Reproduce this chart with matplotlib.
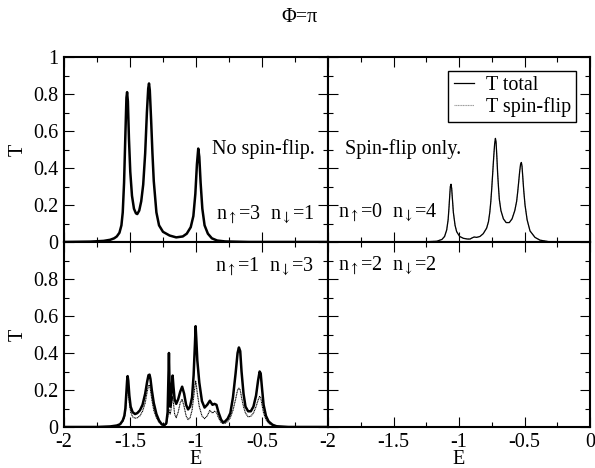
import matplotlib
matplotlib.use("Agg")
import matplotlib.pyplot as plt
from matplotlib.ticker import MultipleLocator

plt.rcParams.update({
    "font.family": "Liberation Serif",
    "mathtext.fontset": "stix",
    "font.size": 14.5,
    "axes.linewidth": 1.5,
    "xtick.direction": "in",
    "ytick.direction": "in",
    "xtick.top": True,
    "ytick.right": True,
    "xtick.major.size": 7.2,
    "ytick.major.size": 7.2,
    "xtick.minor.size": 3.6,
    "ytick.minor.size": 3.6,
    "xtick.major.width": 0.8,
    "ytick.major.width": 0.8,
    "xtick.minor.width": 0.8,
    "ytick.minor.width": 0.8,
})

# ── Data ─────────────────────────────────────────────────────────
# top-left: n_up=3, n_down=1 (no spin-flip)
e_31 = [-2.0, -1.8, -1.7, -1.65, -1.62, -1.60, -1.58, -1.565, -1.555, -1.545,
        -1.535, -1.527, -1.522, -1.516, -1.508, -1.498, -1.485, -1.47, -1.455,
        -1.445, -1.43, -1.415, -1.40, -1.385, -1.372, -1.362, -1.356, -1.35,
        -1.34, -1.33, -1.32, -1.30, -1.28, -1.25, -1.20, -1.15, -1.10, -1.07,
        -1.04, -1.02, -1.005, -0.993, -0.983, -0.975, -0.965, -0.952, -0.935,
        -0.91, -0.88, -0.84, -0.78, -0.6, 0.0]
t_31 = [0.0, 0.002, 0.006, 0.012, 0.02, 0.03, 0.05, 0.09, 0.16, 0.32,
        0.58, 0.78, 0.81, 0.76, 0.56, 0.38, 0.25, 0.18, 0.155,
        0.151, 0.17, 0.22, 0.31, 0.48, 0.70, 0.83, 0.857, 0.82,
        0.66, 0.48, 0.33, 0.16, 0.09, 0.055, 0.035, 0.025, 0.03, 0.045,
        0.08, 0.14, 0.26, 0.42, 0.505, 0.46, 0.32, 0.18, 0.09,
        0.045, 0.02, 0.008, 0.003, 0.0, 0.0]
sf_31_e = [-2.0, 0.0]
sf_31 = [0.0, 0.0]

# top-right: n_up=0, n_down=4 (spin-flip only, total == spin-flip)
e_04 = [-2.0, -1.3, -1.17, -1.13, -1.11, -1.094, -1.083, -1.076, -1.07,
        -1.066, -1.061, -1.056, -1.05, -1.043, -1.03, -1.018, -0.995, -0.967,
        -0.935, -0.916, -0.9, -0.885, -0.865, -0.84, -0.815, -0.789, -0.775,
        -0.765, -0.757, -0.75, -0.742, -0.735, -0.728, -0.722, -0.717, -0.711,
        -0.705, -0.698, -0.692, -0.68, -0.661, -0.64, -0.616, -0.595, -0.574,
        -0.56, -0.552, -0.545, -0.537, -0.53, -0.524, -0.519, -0.513, -0.506,
        -0.496, -0.48, -0.458, -0.42, -0.382, -0.3, 0.0]
t_04 = [0.0, 0.0, 0.004, 0.014, 0.03, 0.065, 0.12, 0.19, 0.26,
        0.30, 0.312, 0.29, 0.23, 0.16, 0.09, 0.056, 0.03, 0.02,
        0.016, 0.016, 0.022, 0.027, 0.025, 0.03, 0.045, 0.075, 0.11,
        0.16, 0.22, 0.29, 0.38, 0.46, 0.53, 0.56, 0.54, 0.46,
        0.37, 0.29, 0.23, 0.17, 0.125, 0.105, 0.105, 0.125, 0.17,
        0.22, 0.27, 0.32, 0.38, 0.42, 0.43, 0.41, 0.35, 0.28,
        0.2, 0.12, 0.06, 0.025, 0.01, 0.0, 0.0]

# bottom-left: n_up=1, n_down=3
e_13 = [-2.0, -1.75, -1.65, -1.60, -1.575, -1.555, -1.543, -1.535, -1.528,
        -1.522, -1.518, -1.513, -1.505, -1.495, -1.48, -1.462, -1.445, -1.425,
        -1.405, -1.385, -1.37, -1.36, -1.352, -1.345, -1.335, -1.32, -1.30,
        -1.28, -1.26, -1.24, -1.225, -1.215, -1.208, -1.205, -1.201, -1.196,
        -1.19, -1.183, -1.177, -1.171, -1.162, -1.15, -1.135, -1.12, -1.105,
        -1.09, -1.075, -1.06, -1.045, -1.03, -1.018, -1.008, -1.003, -0.998,
        -0.99, -0.975, -0.955, -0.935, -0.915, -0.895, -0.875, -0.86, -0.845,
        -0.83, -0.81, -0.795, -0.78, -0.76, -0.74, -0.72, -0.70, -0.685,
        -0.675, -0.665, -0.655, -0.64, -0.625, -0.605, -0.585, -0.565, -0.545,
        -0.53, -0.518, -0.51, -0.5, -0.488, -0.47, -0.45, -0.42, -0.39,
        -0.3, 0.0]
t_13 = [0.0, 0.0, 0.003, 0.008, 0.015, 0.035, 0.06, 0.10, 0.18,
        0.25, 0.275, 0.25, 0.17, 0.11, 0.08, 0.07, 0.075, 0.09,
        0.12, 0.18, 0.245, 0.28, 0.283, 0.26, 0.20, 0.13, 0.07,
        0.035, 0.015, 0.01, 0.02, 0.08, 0.30, 0.40, 0.25, 0.11,
        0.13, 0.22, 0.278, 0.22, 0.15, 0.125, 0.15, 0.19, 0.218,
        0.18, 0.12, 0.095, 0.11, 0.16, 0.28, 0.45, 0.545, 0.48,
        0.36, 0.24, 0.14, 0.105, 0.12, 0.142, 0.12, 0.125, 0.12,
        0.08, 0.04, 0.025, 0.03, 0.045, 0.075, 0.16, 0.29, 0.40,
        0.43, 0.41, 0.30, 0.18, 0.11, 0.085, 0.085, 0.11, 0.17,
        0.25, 0.30, 0.29, 0.21, 0.12, 0.06, 0.03, 0.012, 0.004,
        0.0, 0.0]
sf_13 = [0.0, 0.0, 0.002, 0.006, 0.012, 0.03, 0.05, 0.08, 0.14,
         0.19, 0.21, 0.19, 0.13, 0.08, 0.055, 0.047, 0.05, 0.06,
         0.085, 0.13, 0.19, 0.222, 0.227, 0.20, 0.15, 0.09, 0.05,
         0.025, 0.012, 0.008, 0.015, 0.05, 0.09, 0.095, 0.08, 0.07,
         0.09, 0.14, 0.165, 0.13, 0.07, 0.05, 0.08, 0.13, 0.15,
         0.11, 0.06, 0.04, 0.05, 0.09, 0.16, 0.22, 0.25, 0.23,
         0.18, 0.11, 0.06, 0.045, 0.06, 0.09, 0.075, 0.085, 0.08,
         0.05, 0.025, 0.018, 0.02, 0.03, 0.05, 0.09, 0.15, 0.20,
         0.21, 0.20, 0.16, 0.11, 0.075, 0.055, 0.058, 0.075, 0.11,
         0.145, 0.165, 0.16, 0.12, 0.075, 0.04, 0.02, 0.008, 0.003,
         0.0, 0.0]

# bottom-right: n_up=2, n_down=2 (nothing transmitted)
e_22 = [-2.0, 0.0]
t_22 = [0.0, 0.0]

W, H = 595, 468
fig = plt.figure(figsize=(W / 100, H / 100), dpi=100)

def box(x0, y0, x1, y1):
    return [x0 / W, 1 - y1 / H, (x1 - x0) / W, (y1 - y0) / H]

ax_tl = fig.add_axes(box(64, 57, 328, 242))
ax_tr = fig.add_axes(box(328, 57, 590, 242))
ax_bl = fig.add_axes(box(64, 242, 328, 427))
ax_br = fig.add_axes(box(328, 242, 590, 427))

DOT = (0, (1, 0.5))

ax_tl.plot(sf_31_e, sf_31, color="black", lw=0.8, ls=DOT)
ax_tl.plot(e_31, t_31, color="black", lw=1.8)

h_sf, = ax_tr.plot(e_04, t_04, color="#999999", lw=0.8, ls=DOT, label="T spin-flip")
h_tot, = ax_tr.plot(e_04, t_04, color="black", lw=0.9, label="T total")

ax_bl.plot(e_13, t_13, color="black", lw=1.8)
ax_bl.plot(e_13, sf_13, color="black", lw=0.8, ls=DOT)

ax_br.plot(e_22, t_22, color="black", lw=0.8, ls=DOT)
ax_br.plot(e_22, t_22, color="black", lw=0.9)

for ax in (ax_tl, ax_tr, ax_bl, ax_br):
    ax.set_xlim(-2, 0)
    ax.set_ylim(0, 1)
    ax.xaxis.set_major_locator(MultipleLocator(0.5))
    ax.xaxis.set_minor_locator(MultipleLocator(0.25))
    ax.yaxis.set_major_locator(MultipleLocator(0.2))
    ax.yaxis.set_minor_locator(MultipleLocator(0.1))
    ax.tick_params(which="both", top=True, right=True)

for ax in (ax_tl, ax_tr):
    ax.tick_params(labelbottom=False)
for ax in (ax_tr, ax_br):
    ax.tick_params(labelleft=False)

ax_tl.set_yticks([0, 0.2, 0.4, 0.6, 0.8, 1.0])
ax_tl.set_yticklabels(["0", "0.2", "0.4", "0.6", "0.8", "1"])
ax_bl.set_yticks([0, 0.2, 0.4, 0.6, 0.8, 1.0])
ax_bl.set_yticklabels(["0", "0.2", "0.4", "0.6", "0.8", ""])
ax_bl.set_xticks([-2, -1.5, -1, -0.5, 0])
ax_bl.set_xticklabels(["-2", "-1.5", "-1", "-0.5", ""])
ax_br.set_xticks([-2, -1.5, -1, -0.5, 0])
ax_br.set_xticklabels(["-2", "-1.5", "-1", "-0.5", "0"])

for ax in (ax_tl, ax_tr, ax_bl, ax_br):
    ax.tick_params(axis="both", which="major", pad=4)

ax_tl.set_ylabel("T", labelpad=4)
ax_bl.set_ylabel("T", labelpad=4)
ax_bl.set_xlabel("E", labelpad=-1)
ax_br.set_xlabel("E", labelpad=-1)

# annotations
ax_tl.text(-0.88, 0.50, "No spin-flip.", va="center", ha="left")
ax_tl.text(-0.85, 0.146, r"n$_{\uparrow}$=3  n$_{\downarrow}$=1", va="center", ha="left")
ax_tr.text(-1.87, 0.50, "Spin-flip only.", va="center", ha="left")
ax_tr.text(-1.92, 0.157, r"n$_{\uparrow}$=0  n$_{\downarrow}$=4", va="center", ha="left")
ax_bl.text(-0.856, 0.865, r"n$_{\uparrow}$=1  n$_{\downarrow}$=3", va="center", ha="left")
ax_br.text(-1.92, 0.87, r"n$_{\uparrow}$=2  n$_{\downarrow}$=2", va="center", ha="left")

leg = ax_tr.legend([h_tot, h_sf], ["T total", "T spin-flip"],
                   loc="upper right", frameon=True, fancybox=False,
                   edgecolor="black", framealpha=1, handlelength=1.0,
                   handletextpad=0.6, labelspacing=0.1, borderpad=0.25,
                   borderaxespad=0.7)
leg.get_frame().set_linewidth(1.0)

fig.text(300 / W, 1 - 17 / H, "Φ=π", ha="center", va="center")

fig.savefig("out.png", dpi=100)
